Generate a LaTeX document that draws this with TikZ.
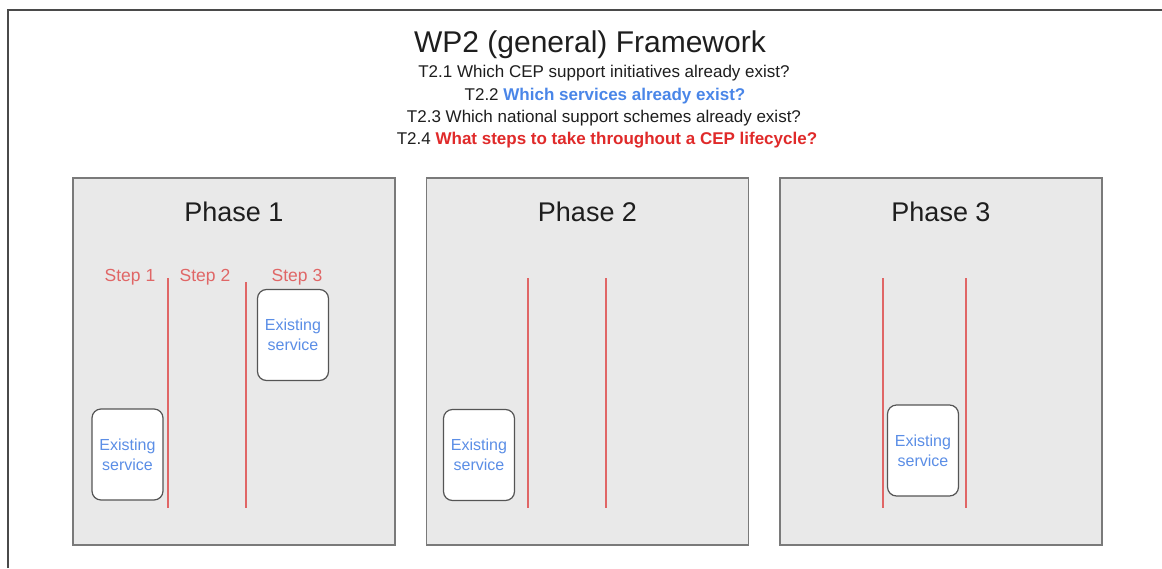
\documentclass[tikz,border=0pt]{standalone}
\usepackage{fontspec}
\setmainfont{Liberation Sans}
\definecolor{framegray}{HTML}{4A4A4A}
\definecolor{boxgray}{HTML}{E9E9E9}
\definecolor{boxedge}{HTML}{7A7A7A}
\definecolor{svcedge}{HTML}{555555}
\definecolor{qblue}{HTML}{4A86E8}
\definecolor{svcblue}{HTML}{5B8EE6}
\definecolor{qred}{HTML}{E02A2A}
\definecolor{stepred}{HTML}{E06666}
\definecolor{ink}{HTML}{1E1E1E}
\tikzset{
  phasebox/.style={draw=boxedge, fill=boxgray, line width=1.2pt, minimum width=322pt, minimum height=367pt, inner sep=0pt},
  phasetitle/.style={text=ink, font=\fontsize{27}{32}\selectfont, inner sep=0pt},
  svcbox/.style={draw=svcedge, fill=white, line width=1.2pt, rounded corners=9pt, minimum width=71pt, minimum height=91pt, inner sep=0pt, align=center, text=svcblue, font=\fontsize{16}{20}\selectfont},
  steplabel/.style={text=stepred, font=\fontsize{17.5}{20}\selectfont, inner sep=0pt},
  divider/.style={draw=stepred, line width=1.5pt},
  qline/.style={text=ink, font=\fontsize{17}{20}\selectfont, inner sep=0pt},
}
\begin{document}
\begin{tikzpicture}[x=1pt,y=-1pt]
\useasboundingbox (0,0) rectangle (1162,568);
\fill[white] (0,0) rectangle (1162,568);
% outer frame
\coordinate (fbl) at (8,568);
\coordinate (ftl) at (8,10);
\coordinate (ftr) at (1162,10);
\draw[framegray, line width=2pt] (fbl) -- (ftl) -- (ftr);
% title block
\node[text=ink, font=\fontsize{30}{36}\selectfont, inner sep=0pt] (title) at (590,45) {WP2 (general) Framework};
\node[qline] (q1) at (604,73) {T2.1 Which CEP support initiatives already exist?};
\node[qline] (q2) at (605,96) {T2.2 \textcolor{qblue}{\bfseries Which services already exist?}};
\node[qline] (q3) at (604,118) {T2.3 Which national support schemes already exist?};
\node[qline] (q4) at (607,140) {T2.4 \textcolor{qred}{\bfseries What steps to take throughout a CEP lifecycle?}};
% phase boxes
\node[phasebox] (p1) at (234,361.5) {};
\node[phasebox] (p2) at (587.5,361.5) {};
\node[phasebox] (p3) at (941,361.5) {};
\node[phasetitle] (p1t) at (234,212) {Phase 1};
\node[phasetitle] (p2t) at (587.5,212) {Phase 2};
\node[phasetitle] (p3t) at (941,212) {Phase 3};
% steps in phase 1
\node[steplabel] (s1) at (130,277) {Step 1};
\node[steplabel] (s2) at (205,277) {Step 2};
\node[steplabel] (s3) at (297,277) {Step 3};
% dividers
\coordinate (d1a) at (168,278); \coordinate (d1b) at (168,508);
\coordinate (d2a) at (246,282); \coordinate (d2b) at (246,508);
\coordinate (d3a) at (528,278); \coordinate (d3b) at (528,508);
\coordinate (d4a) at (606,278); \coordinate (d4b) at (606,508);
\coordinate (d5a) at (883,278); \coordinate (d5b) at (883,508);
\coordinate (d6a) at (966,278); \coordinate (d6b) at (966,508);
\draw[divider] (d1a) -- (d1b);
\draw[divider] (d2a) -- (d2b);
\draw[divider] (d3a) -- (d3b);
\draw[divider] (d4a) -- (d4b);
\draw[divider] (d5a) -- (d5b);
\draw[divider] (d6a) -- (d6b);
% existing services
\node[svcbox] (e1) at (127.5,454.5) {Existing\\service};
\node[svcbox] (e2) at (293,335) {Existing\\service};
\node[svcbox] (e3) at (479,455) {Existing\\service};
\node[svcbox] (e4) at (923,450.5) {Existing\\service};
\end{tikzpicture}
\end{document}
